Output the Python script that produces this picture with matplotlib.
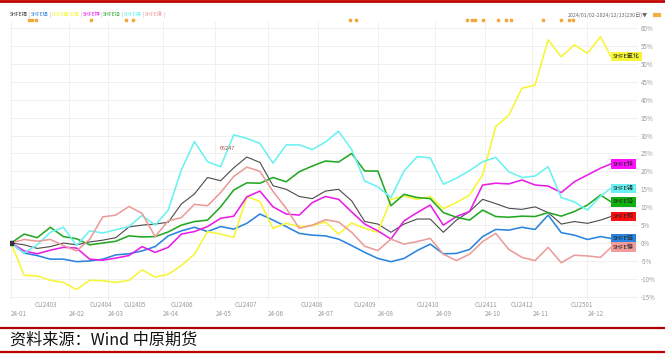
import matplotlib
matplotlib.use("Agg")
import matplotlib.pyplot as plt
import matplotlib.transforms as mtransforms
from matplotlib.lines import Line2D
import numpy as np

plt.rcParams['font.family'] = ['Noto Sans CJK SC', 'DejaVu Sans']

# trading-day index of the sampled points (230 trading days, 2024/01/02-2024/12/13)
days = np.append(np.arange(0, 230, 5), 229)

names = ["SHFE铜", "SHFE铝", "SHFE氧化铝", "SHFE锌", "SHFE铅", "SHFE锡", "SHFE镍"]
end_names = ["SHFE铜", "SHFE铝", "SHFE氧化", "SHFE锌", "SHFE铅", "SHFE锡", "SHFE镍"]

# cumulative change, %
copper = [0, -0.5, -1.5, -1, 0, -0.5, 0.3, 0.8, 1.5, 4.5, 5, 5.3, 5.8, 10.9, 13.7, 18.3,
          17.4, 21, 24, 22.5, 16, 15, 13, 12.4, 14.5, 15, 11.8, 6, 5.3, 3, 5.3, 6.7,
          6.7, 3, 6.4, 8.8, 12.2, 11, 9.7, 9.4, 10.1, 8.5, 5.3, 6, 5.5, 6.4, 7.4]
aluminium = [0, -2.8, -3.5, -4.5, -4.5, -5.2, -5, -4.5, -3.3, -3, -2.2, -1, 2.0, 3.4, 4.4,
             3.2, 4.6, 3.9, 5.5, 8.1, 6.4, 4.6, 2.7, 2.2, 2, 1.1, -0.7, -2.6, -4.3, -5.2,
             -4.3, -2.1, -0.3, -3, -2.9, -1.8, 1.8, 3.8, 3.6, 4.4, 3.8, 7.8, 2.9, 2.2, 1,
             1.8, 1.3]
alumina = [0, -9, -9.2, -10.4, -11, -13, -10.4, -10.5, -11, -10.4, -7.5, -9.5, -8.7, -6.3,
           -3.1, 3.2, 2.5, 1.6, 13, 11.6, 4.1, 5.5, 4.6, 4.8, 5.9, 2.5, 5.6, 4.1, 3, 12.2,
           13.1, 12.2, 13, 9.6, 11.3, 13.4, 19, 32.5, 35.7, 43.2, 44.1, 56.7, 52, 55.3,
           53, 57.6, 52]
zinc = [0, -2.2, -3, -2, -1.2, -1.4, -4.5, -4.8, -4.2, -3.5, -1, -2.6, -1.2, 2.5, 3.2, 4.6,
        6.9, 7.5, 12.9, 14.5, 10.1, 8.1, 7.8, 11.3, 13, 12.2, 8.7, 5.3, 3.4, 1.1, 6.2, 8.5,
        10.6, 5, 7.4, 8.8, 16.2, 16.7, 16.5, 17.6, 16.2, 15.9, 14.1, 17.1, 19, 20.9, 22.1]
lead = [0, 2.5, 1.5, 4.4, 1.8, 1.2, -0.5, 0, 0.5, 2, 1.7, 1.8, 3.1, 5, 6, 6.4, 10.1, 14.8,
        16.8, 16.7, 18.3, 17.1, 19.9, 21.5, 22.9, 22.6, 25, 20.1, 20.1, 10.4, 13.6, 12.7,
        12.4, 8.5, 7.2, 6.4, 9.2, 7.4, 7.2, 7.5, 7.4, 8.5, 7.5, 8.8, 10.6, 13.4, 11.5]
tin = [0, -2.8, -0.5, 3, 4.4, -0.7, 3.4, 2.8, 3.7, 4.6, 7.7, 5, 9.2, 20.4, 28.3, 22.7,
       21.3, 30.2, 29.2, 27.8, 22.3, 27.4, 27.4, 26.1, 28.2, 31.2, 26.1, 17.3, 15.7, 12.7,
       20.1, 24.1, 23.8, 16.4, 18.1, 20.2, 22.7, 23.9, 19.9, 18.3, 18.7, 21.3, 12.7, 11.5,
       9.2, 13.1, 15.3]
nickel = [0, 1, 0.5, 1, -0.7, -2.2, 1, 7.3, 7.8, 10.2, 8.3, 1.8, 6.2, 7.1, 10.8, 10.4,
          14.1, 18.6, 21.2, 20, 14.4, 9.7, 4.1, 5, 6.5, 5.9, 3, -0.9, -2.1, 1.1, -0.3, 0.4,
          1.3, -3.1, -4.9, -3.1, 0.4, 2.7, -1.8, -4, -4.9, -1.2, -5.5, -3.4, -3.6, -4, -1.2]
series = [copper, aluminium, alumina, zinc, lead, tin, nickel]

line_colors = ["#4a4a4a", "#2a84e0", "#f7f535", "#e81ee8", "#24a824", "#6af2f2", "#eb9c9a"]
box_colors = ["#ff1010", "#2a84e0", "#f7f535", "#ff10ff", "#10b010", "#6af2f2", "#f09c9a"]

# month starts (trading-day index) and labels
month_days = [0, 22, 37, 58, 78, 98, 117, 140, 162, 181, 199, 220]
month_labels = ["24-01", "24-02", "24-03", "24-04", "24-05", "24-06", "24-07",
                "24-08", "24-09", "24-10", "24-11", "24-12"]
contract_days = [13.4, 34.4, 47.3, 65.3, 89.7, 114.9, 135.1, 159.2, 181.3, 195, 218]
contract_labels = ["CU2403", "CU2404", "CU2405", "CU2406", "CU2407", "CU2408",
                   "CU2409", "CU2410", "CU2411", "CU2412", "CU2501"]
event_days = [7, 8, 9.5, 30.5, 44, 46.5, 129.5, 131.5, 174, 176, 177, 180, 186, 189,
              191, 203, 210, 213, 214.5]
yticks = np.arange(-15, 61, 5)

W, H = 665, 357
fig = plt.figure(figsize=(W / 100, H / 100), dpi=100)
ax = fig.add_axes([10 / W, 1 - 300 / H, 628 / W, 278 / H])

for vals, col, nm in zip(series, line_colors, names):
    lw = 0.8 if nm == "SHFE铜" else 1.15
    ax.plot(days, vals, color=col, lw=lw, zorder=3)
ax.plot([days[0]], [copper[0]], marker="s", ms=3, color="#333333", zorder=4)

ax.set_xlim(-0.4, 239.3)
ax.set_ylim(-15.9, 61.7)
for s in ax.spines.values():
    s.set_visible(False)

ax.set_yticks(yticks)
ax.set_yticklabels([f"{v}%" for v in yticks])
ax.yaxis.tick_right()
ax.tick_params(axis="y", length=0, pad=2, labelsize=4.5, labelcolor="#9a9a9a")
ax.set_xticks(month_days)
ax.set_xticklabels(month_labels, ha="left")
ax.tick_params(axis="x", length=0, pad=7.5, labelsize=4.5, labelcolor="#9a9a9a")
ax.grid(True, color="#eeeeee", lw=0.6, zorder=0)

trans = mtransforms.blended_transform_factory(ax.transData, ax.transAxes)
for d, lab in zip(contract_days, contract_labels):
    ax.text(d, -0.018, lab, transform=trans, ha="center", va="center",
            fontsize=4.5, color="#9a9a9a")
ax.plot(event_days, [1.006] * len(event_days), ls="none", marker="*", ms=2.4,
        color="#f2a93b", transform=trans, clip_on=False)

# end labels
for vals, col, nm in zip(series, box_colors, end_names):
    ax.text(229.8, vals[-1], nm, fontsize=4.3, color="#222222", va="center", ha="left",
            zorder=5, bbox=dict(boxstyle="square,pad=0.35", fc=col, ec="none"))

ax.text(82.5, 26.3, "66247", fontsize=4, color="#b04a4a", ha="center", va="center")

# legend line at top
fig.canvas.draw()
r = fig.canvas.get_renderer()
xpos = 10
ly = 1 - 15 / H
for i, (nm, col) in enumerate(zip(names, line_colors)):
    c = "#333333" if i == 0 else col
    t = fig.text(xpos / W, ly, nm, fontsize=3.7, color=c, va="center")
    xpos = t.get_window_extent(r).x1 + 0.8
    t2 = fig.text(xpos / W, ly, "|", fontsize=3.7, color="#aaaaaa", va="center")
    xpos = t2.get_window_extent(r).x1 + 0.8

fig.text(648 / W, ly, "2024/01/02-2024/12/13(230日)▼", fontsize=3.8, color="#666666",
         ha="right", va="center")
fig.add_artist(Line2D([655 / W, 659 / W], [ly, ly], color="#f2b040", lw=3))

# frame lines and source
fig.add_artist(Line2D([0, 1], [1 - 1.2 / H] * 2, color="#c00000", lw=2))
fig.add_artist(Line2D([0, 1], [1 - 328 / H] * 2, color="#b00000", lw=1.6))
fig.add_artist(Line2D([0, 1], [1 - 352 / H] * 2, color="#c00000", lw=1.6))
fig.text(10 / W, 1 - 340 / H, "资料来源：Wind 中原期货", fontsize=11.6, color="#111111",
         va="center", ha="left")

fig.savefig("out.png", dpi=100)
